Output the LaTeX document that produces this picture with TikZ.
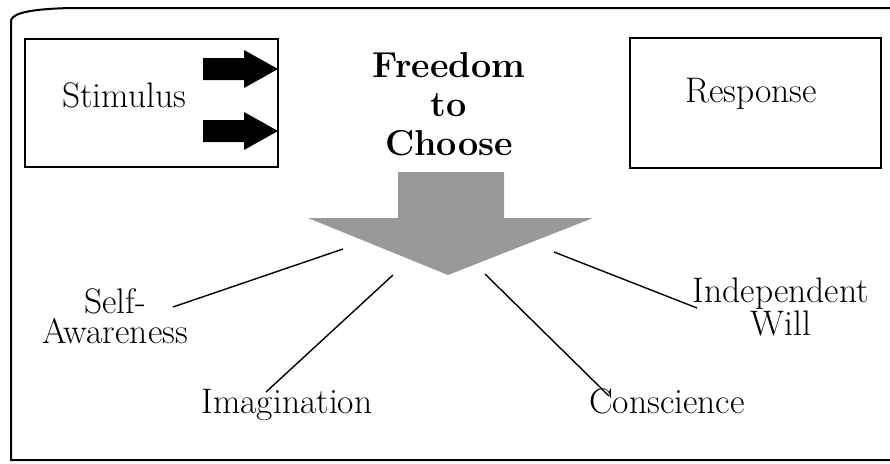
\documentclass[tikz,border=0pt]{standalone}
\begin{document}
\begin{tikzpicture}[x=1pt,y=-1pt,
  box/.style={draw,line width=1.8pt},
  lbl/.style={font=\fontsize{35.5}{32}\selectfont,align=center,inner sep=0pt,anchor=base},
  link/.style={line width=1.4pt},
  blk/.style={fill=black,draw=none},
]
\useasboundingbox (0,0) rectangle (890,463);
% outer frame
\draw[line width=2pt] (893,8) -- (70,8) .. controls (35,9) and (14,12) .. (11,20) -- (11,460) -- (893,460);
% boxes
\draw[box] (25,39) rectangle (278,167);
\draw[box] (630,38) rectangle (881,168);
\node[lbl] (stim) at (124,107) {Stimulus};
\node[lbl] (resp) at (751,102) {Response};
% black arrows
\fill[blk] (203,58) -- (244,58) -- (244,50) -- (278,69) -- (244,88) -- (244,80) -- (203,80) -- cycle;
\fill[blk] (203,120) -- (244,120) -- (244,112) -- (278,131) -- (244,150) -- (244,142) -- (203,142) -- cycle;
% title
\node[font=\bfseries\fontsize{36}{39}\selectfont,align=center,inner sep=0pt,anchor=base] (free) at (449,155) {Freedom\\to\\Choose};
% gray arrow
\fill[black!40] (398,172) -- (504,172) -- (504,218) -- (593,218) -- (448,275) -- (308,218) -- (398,218) -- cycle;
% labels
\node[lbl,font=\fontsize{35.5}{30}\selectfont] (self) at (115,343) {Self-\\Awareness};
\node[lbl] (imag) at (287,413) {Imagination};
\node[lbl] (cons) at (667,413) {Conscience};
\node[lbl,font=\fontsize{35.5}{33}\selectfont] (will) at (781,335) {Independent\\Will};
% connector ends
\coordinate (a1) at (343,249); \coordinate (a2) at (173,307);
\coordinate (b1) at (393,275); \coordinate (b2) at (266,392);
\coordinate (c1) at (485,274); \coordinate (c2) at (609,396);
\coordinate (d1) at (554,252); \coordinate (d2) at (697,308);
\draw[link] (a1) -- (a2);
\draw[link] (b1) -- (b2);
\draw[link] (c1) -- (c2);
\draw[link] (d1) -- (d2);
\end{tikzpicture}
\end{document}
